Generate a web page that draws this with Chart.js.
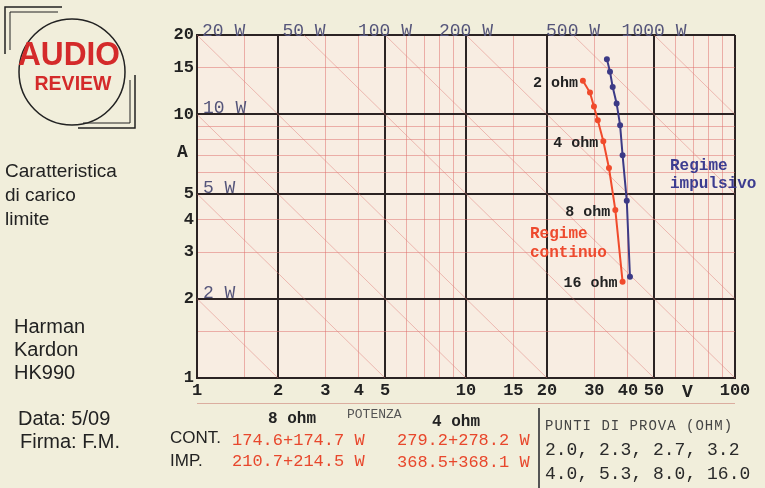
<!DOCTYPE html>
<html>
<head>
<meta charset="utf-8">
<script src="https://cdn.jsdelivr.net/npm/chart.js@4/dist/chart.umd.min.js"></script>
<style>
  html, body { margin: 0; padding: 0; }
  body {
    width: 765px; height: 488px; position: relative; overflow: hidden;
    background: #f1eedb; color: #222;
    font-family: "Liberation Sans", Arial, sans-serif;
  }
  #chart { position: absolute; left: 0; top: 0; }
  .t { position: absolute; white-space: nowrap; line-height: 1; }
  .side { font-size: 19px; }
  .maker { font-size: 20px; }
  .mono { font-family: "Liberation Mono", "Courier New", monospace; }
  .val { color: #e8472c; font-size: 17px; }
  .ohm { font-weight: bold; font-size: 16px; }
  .pts { font-size: 18px; color: #2a2a2a; }
  #logo { position: absolute; left: 0; top: 0; }
</style>
</head>
<body>
<canvas id="chart" width="765" height="488"></canvas>

<svg id="logo" width="145" height="140">
  <path d="M5 54 L5 7 L62 7" fill="none" stroke="#222" stroke-width="1.5"/>
  <path d="M10 50 L10 12 L58 12" fill="none" stroke="#222" stroke-width="1"/>
  <circle cx="72" cy="72" r="53" fill="none" stroke="#222" stroke-width="1.5"/>
  <path d="M135 75 L135 128 L78 128" fill="none" stroke="#222" stroke-width="1.5"/>
  <path d="M130 80 L130 123 L83 123" fill="none" stroke="#222" stroke-width="1"/>
  <text x="69" y="65" text-anchor="middle" font-family="Liberation Sans, Arial" font-weight="bold"
        font-size="34" fill="#d42a2a" textLength="102" lengthAdjust="spacingAndGlyphs">AUDIO</text>
  <text x="73" y="90" text-anchor="middle" font-family="Liberation Sans, Arial" font-weight="bold"
        font-size="20" fill="#d42a2a" textLength="77" lengthAdjust="spacingAndGlyphs">REVIEW</text>
</svg>

<div class="t side" style="left:5px; top:161px;">Caratteristica</div>
<div class="t side" style="left:5px; top:185px;">di carico</div>
<div class="t side" style="left:5px; top:209px;">limite</div>

<div class="t maker" style="left:14px; top:316px;">Harman</div>
<div class="t maker" style="left:14px; top:339px;">Kardon</div>
<div class="t maker" style="left:14px; top:362px;">HK990</div>

<div class="t maker" style="left:18px; top:408px;">Data: 5/09</div>
<div class="t maker" style="left:20px; top:431px;">Firma: F.M.</div>

<div class="t mono" style="left:177px; top:143px; font-size:18px; font-weight:bold;">A</div>
<div class="t mono" style="left:682px; top:383px; font-size:18px; font-weight:bold;">V</div>

<div class="t mono" style="left:530px; top:226px; font-size:16px; font-weight:bold; color:#ee4a2e;">Regime</div>
<div class="t mono" style="left:530px; top:245px; font-size:16px; font-weight:bold; color:#ee4a2e;">continuo</div>
<div class="t mono" style="left:670px; top:158px; font-size:16px; font-weight:bold; color:#3c3c90;">Regime</div>
<div class="t mono" style="left:670px; top:176px; font-size:16px; font-weight:bold; color:#3c3c90;">impulsivo</div>

<div style="position:absolute; left:197px; top:403px; width:538px; height:1px; background:rgba(200,120,110,0.55);"></div>
<div style="position:absolute; left:538px; top:408px; width:1.5px; height:80px; background:#555;"></div>

<div class="t mono ohm" style="left:268px; top:411px;">8 ohm</div>
<div class="t mono" style="left:347px; top:408px; font-size:13px; color:#555;">POTENZA</div>
<div class="t mono ohm" style="left:432px; top:414px;">4 ohm</div>
<div class="t mono" style="left:545px; top:419px; font-size:14px; letter-spacing:1px; color:#444;">PUNTI DI PROVA (OHM)</div>

<div class="t" style="left:170px; top:429px; font-size:17px;">CONT.</div>
<div class="t mono val" style="left:232px; top:432px;">174.6+174.7 W</div>
<div class="t mono val" style="left:397px; top:432px;">279.2+278.2 W</div>
<div class="t" style="left:170px; top:452px; font-size:17px;">IMP.</div>
<div class="t mono val" style="left:232px; top:453px;">210.7+214.5 W</div>
<div class="t mono val" style="left:397px; top:454px;">368.5+368.1 W</div>

<div class="t mono pts" style="left:545px; top:441px;">2.0, 2.3, 2.7, 3.2</div>
<div class="t mono pts" style="left:545px; top:465px;">4.0, 5.3, 8.0, 16.0</div>

<script>
// grid positions and labels (log-log, volts vs amperes)
const xGrid = [1, 1.5, 2, 3, 4, 5, 6, 7, 8, 9, 10, 15, 20, 30, 40, 50, 60, 70, 80, 90, 100];
const xLabels = [1, 2, 3, 4, 5, 10, 15, 20, 30, 40, 50, 100];
const xMajor = [1, 2, 5, 10, 20, 50, 100];
const yGrid = [1, 1.5, 2, 3, 4, 5, 6, 7, 8, 9, 10, 15, 20];
const yLabels = [1, 2, 3, 4, 5, 10, 15, 20];
const yMajor = [1, 2, 5, 10, 20];

// constant power lines (W)
const powerWatts = [2, 5, 10, 20, 50, 100, 200, 500, 1000];

// test loads (ohm) and measured limits
const testOhms = [2.0, 2.3, 2.7, 3.2, 4.0, 5.3, 8.0, 16.0];
const ohmTags = ["2 ohm", "", "", "", "4 ohm", "", "8 ohm", "16 ohm"];
const contVolts = [27.2, 28.9, 29.9, 30.9, 32.4, 34.0, 35.9, 38.2];
const contAmps = [13.4, 12.1, 10.7, 9.5, 7.9, 6.26, 4.34, 2.32];
const impVolts = [33.4, 34.3, 35.1, 36.3, 37.4, 38.2, 39.6, 40.7];
const impAmps = [16.2, 14.5, 12.7, 11.0, 9.1, 7.0, 4.7, 2.42];

const DARK = "#2b2323";
const PINK = "rgba(222, 110, 105, 0.5)";
const RED = "#f04b2c";
const BLUE = "#3c3a86";
const MONO = "'Liberation Mono', 'Courier New', monospace";

function toPoints(xs, ys) {
  return xs.map((x, i) => ({ x, y: ys[i] }));
}

function powerLine(p) {
  const v0 = Math.max(1, p / 20);
  const v1 = Math.min(100, p);
  return [{ x: v0, y: p / v0 }, { x: v1, y: p / v1 }];
}

const powerSets = powerWatts.map((p) => ({
  label: p + " W",
  data: powerLine(p),
  borderColor: "rgba(222, 120, 115, 0.45)",
  borderWidth: 1,
  pointRadius: 0,
  showLine: true,
  order: 5,
}));

const chartBg = {
  id: "chartBg",
  beforeDraw(chart) {
    const { ctx, chartArea: a } = chart;
    ctx.save();
    ctx.fillStyle = "#f8ede2";
    ctx.fillRect(a.left, a.top, a.right - a.left, a.bottom - a.top);
    ctx.restore();
  },
};

const annotations = {
  id: "annotations",
  afterDatasetsDraw(chart) {
    const { ctx, chartArea: a, scales } = chart;
    ctx.save();
    // power labels
    ctx.font = "18px " + MONO;
    ctx.fillStyle = "#55557a";
    ctx.textBaseline = "alphabetic";
    powerWatts.forEach((p) => {
      const txt = p + " W";
      const w = ctx.measureText(txt).width;
      if (p >= 20) {
        let x = scales.x.getPixelForValue(p / 20) - w / 2;
        if (x < a.left + 5) x = a.left + 5;
        ctx.fillText(txt, x, a.top + 1);
      } else {
        ctx.fillText(txt, a.left + 6, scales.y.getPixelForValue(p) - 1);
      }
    });
    // load tags beside the continuous curve
    const meta = chart.getDatasetMeta(0);
    ctx.font = "bold 15px " + MONO;
    ctx.fillStyle = "#222";
    ctx.textAlign = "right";
    ctx.textBaseline = "middle";
    ohmTags.forEach((tag, i) => {
      if (!tag) return;
      const pt = meta.data[i];
      ctx.fillText(tag, pt.x - 5, pt.y + 2);
    });
    ctx.restore();
  },
};

new Chart(document.getElementById("chart"), {
  type: "scatter",
  data: {
    datasets: [
      {
        label: "Regime continuo",
        data: toPoints(contVolts, contAmps),
        borderColor: RED,
        backgroundColor: RED,
        borderWidth: 2,
        pointRadius: 2,
        showLine: true,
        order: 0,
      },
      {
        label: "Regime impulsivo",
        data: toPoints(impVolts, impAmps),
        borderColor: BLUE,
        backgroundColor: BLUE,
        borderWidth: 2,
        pointRadius: 2,
        showLine: true,
        order: 0,
      },
      ...powerSets,
    ],
  },
  options: {
    responsive: false,
    animation: false,
    devicePixelRatio: 1,
    layout: { padding: { left: 167, right: 30, top: 35, bottom: 86 } },
    plugins: { legend: { display: false }, tooltip: { enabled: false } },
    scales: {
      x: {
        type: "logarithmic",
        min: 1,
        max: 100,
        afterBuildTicks: (scale) => { scale.ticks = xGrid.map((v) => ({ value: v })); },
        afterFit: (scale) => { scale.height = 24; },
        ticks: {
          autoSkip: false,
          maxRotation: 0,
          padding: 3,
          color: "#222",
          font: { family: MONO, size: 17, weight: "bold" },
          callback: (v) => (xLabels.includes(v) ? String(v) : ""),
        },
        grid: {
          drawTicks: false,
          color: (c) => (xMajor.includes(c.tick.value) ? DARK : PINK),
          lineWidth: (c) => (xMajor.includes(c.tick.value) ? 2 : 1),
        },
        border: { display: true, color: DARK, width: 2 },
      },
      y: {
        type: "logarithmic",
        min: 1,
        max: 20,
        afterBuildTicks: (scale) => { scale.ticks = yGrid.map((v) => ({ value: v })); },
        afterFit: (scale) => { scale.width = 30; },
        ticks: {
          autoSkip: false,
          padding: 3,
          color: "#222",
          font: { family: MONO, size: 17, weight: "bold" },
          callback: (v) => (yLabels.includes(v) ? String(v) : ""),
        },
        grid: {
          drawTicks: false,
          color: (c) => (yMajor.includes(c.tick.value) ? DARK : PINK),
          lineWidth: (c) => (yMajor.includes(c.tick.value) ? 2 : 1),
        },
        border: { display: true, color: DARK, width: 2 },
      },
    },
  },
  plugins: [chartBg, annotations],
});
</script>
</body>
</html>
